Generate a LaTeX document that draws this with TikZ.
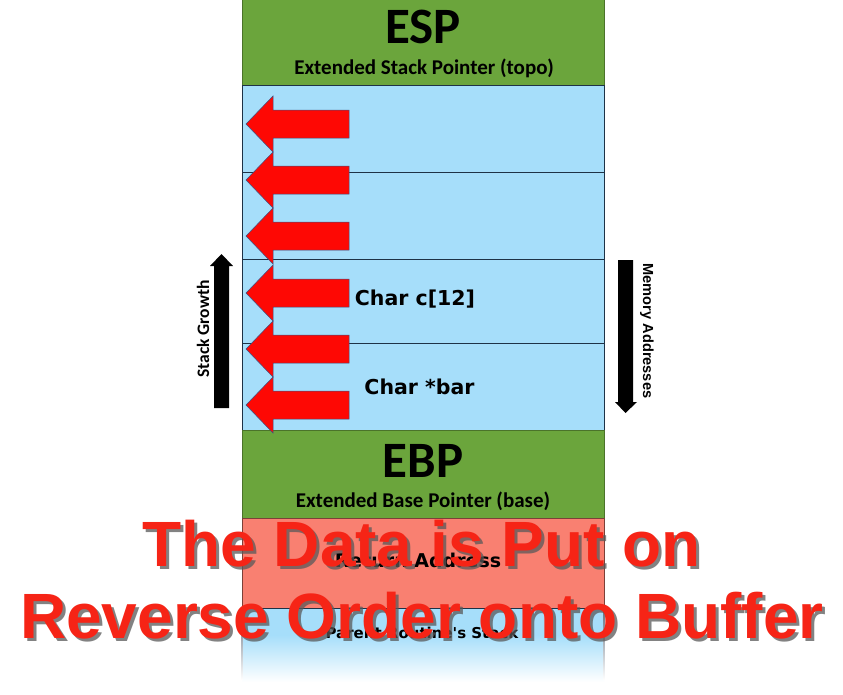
\documentclass[tikz,border=0pt]{standalone}
\usepackage{fontspec}
\newfontfamily\calfont{Carlito}
\newfontfamily\vfont{DejaVu Sans}
\newfontfamily\afont{Liberation Sans}
\definecolor{espg}{RGB}{107,165,60}
\definecolor{skyb}{RGB}{166,222,250}
\definecolor{salm}{RGB}{249,128,113}
\definecolor{edge}{RGB}{30,50,70}
\definecolor{arrred}{RGB}{254,8,4}
\definecolor{bigred}{RGB}{246,36,22}
\begin{document}
\begin{tikzpicture}[x=1pt,y=-1pt,
  boxline/.style={draw=edge,line width=0.8pt},
  redarrow/.style={fill=arrred,draw={rgb,255:red,60;green,80;blue,130},line width=0.5pt},
  bigtitle/.style={font=\calfont\bfseries\fontsize{51}{55}\selectfont,anchor=base,inner sep=0},
  subtitle/.style={font=\calfont\bfseries\fontsize{21}{24}\selectfont,anchor=base,inner sep=0},
  cell/.style={font=\vfont\bfseries\fontsize{20.5}{24}\selectfont,anchor=base,inner sep=0},
  overlay/.style={font=\afont\bfseries\fontsize{64}{70}\selectfont,anchor=base,inner sep=0,text=bigred},
  shadowtxt/.style={font=\afont\bfseries\fontsize{64}{70}\selectfont,anchor=base,inner sep=0,text=black!65,opacity=0.75},
  sidearrow/.style={fill=black}
]
\useasboundingbox (0,0) rectangle (843,694);
\fill[white] (0,0) rectangle (843,694);

% ESP box
\fill[espg] (242,-2) rectangle (604,85);
\draw[boxline,draw=espg!70!black] (242,-2) -- (242,85) (604,-2) -- (604,85);
% Blue stack region
\fill[skyb] (242,85) rectangle (604,430);
\draw[boxline] (242,85) rectangle (604,430);
\draw[boxline] (242,172) -- (604,172);
\draw[boxline] (242,259) -- (604,259);
\draw[boxline] (242,343) -- (604,343);
% EBP box
\fill[espg] (242,430) rectangle (604,518);
\draw[boxline,draw=espg!70!black] (242,430) rectangle (604,518);
% Return address box
\fill[salm] (242,518) rectangle (604,608);
\draw[boxline,draw=salm!50!black] (242,518) rectangle (604,608);
% Parent routine's stack
\fill[skyb] (242,608) rectangle (604,635);
\shade[top color=skyb,bottom color=white] (242,635) rectangle (604,682);
\draw[boxline] (242,608) -- (604,608);
\shade[top color=edge!70,bottom color=white] (241.6,608) rectangle (242.4,680);
\shade[top color=edge!70,bottom color=white] (603.6,608) rectangle (604.4,680);

% red arrows
\foreach \cy in {124,180,236,293,349,405}{
  \draw[redarrow] (246,\cy) -- (273,\cy-28) -- (273,\cy-14) -- (349,\cy-14) -- (349,\cy+14) -- (273,\cy+14) -- (273,\cy+28) -- cycle;
}

% texts
\node[bigtitle] (esp) at (423,43) {ESP};
\node[subtitle] (espsub) at (424,74) {Extended Stack Pointer (topo)};
\node[bigtitle] (ebp) at (423,477) {EBP};
\node[subtitle] (ebpsub) at (423,507) {Extended Base Pointer (base)};
\node[cell] (carr) at (415,305) {Char c[12]};
\node[cell] (cbar) at (419.5,394) {Char *bar};
\node[font=\vfont\bfseries\fontsize{19}{22}\selectfont,anchor=base,inner sep=0] (ret) at (418,567) {Return Address};
\node[font=\vfont\bfseries\fontsize{15}{18}\selectfont,anchor=base,inner sep=0] (par) at (422,638) {Parent Routine's Stack};

% side arrows
\fill[sidearrow] (214,408) -- (229,408) -- (229,266) -- (233,266) -- (221.5,254) -- (210,266) -- (214,266) -- cycle;
\node[font=\calfont\bfseries\fontsize{17.5}{19}\selectfont,rotate=90,inner sep=0] (sg) at (203,329) {Stack Growth};
\fill[sidearrow] (618,260) -- (633,260) -- (633,402) -- (637,402) -- (625.5,413) -- (615,402) -- (618,402) -- cycle;
\node[font=\afont\bfseries\fontsize{14.6}{17}\selectfont,rotate=-90,inner sep=0] (ma) at (647,331) {Memory Addresses};

% overlay caption
\node[shadowtxt] (l1s) at (424.5,569) {The Data is Put on};
\node[shadowtxt] (l2s) at (425,641) {Reverse Order onto Buffer};
\node[overlay] (l1) at (421.5,566) {The Data is Put on};
\node[overlay] (l2) at (422,638) {Reverse Order onto Buffer};
\end{tikzpicture}
\end{document}
